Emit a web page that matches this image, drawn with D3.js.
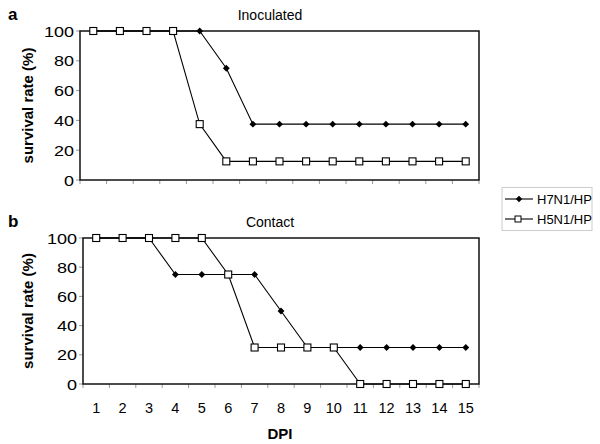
<!DOCTYPE html>
<html>
<head>
<meta charset="utf-8">
<script src="https://cdn.jsdelivr.net/npm/d3@7"></script>
<style>
body { margin: 0; background: #fff; }
text { font-family: Arial, "Liberation Sans", sans-serif; }
</style>
</head>
<body>
<svg id="chart" width="600" height="444"></svg>
<script>
var days = [1,2,3,4,5,6,7,8,9,10,11,12,13,14,15];
var yTicks = [0,20,40,60,80,100];

var inocH7N1 = [100,100,100,100,100,75,37.5,37.5,37.5,37.5,37.5,37.5,37.5,37.5,37.5];
var inocH5N1 = [100,100,100,100,37.5,12.5,12.5,12.5,12.5,12.5,12.5,12.5,12.5,12.5,12.5];
var contH7N1 = [100,100,100,75,75,75,75,50,25,25,25,25,25,25,25];
var contH5N1 = [100,100,100,100,100,75,25,25,25,25,0,0,0,0,0];

var seriesNames = ['H7N1/HP','H5N1/HP'];

var svg = d3.select('#chart');

function drawPanel(opts) {
	var x = d3.scaleBand().domain(days).range([opts.left, opts.right]);
	var y = d3.scaleLinear().domain([0,100]).range([opts.bottom, opts.top]);
	var g = svg.append('g');

	// category ticks between bands
	var edges = days.map(function(d){ return x(d); }).concat([opts.right]);
	g.selectAll('line.xt').data(edges).enter().append('line')
		.attr('x1', function(d){ return d; }).attr('x2', function(d){ return d; })
		.attr('y1', opts.bottom).attr('y2', opts.bottom + 4)
		.attr('stroke', '#999').attr('stroke-width', 1);

	g.selectAll('line.yt').data(yTicks).enter().append('line')
		.attr('x1', opts.left - 4).attr('x2', opts.left)
		.attr('y1', function(d){ return y(d); }).attr('y2', function(d){ return y(d); })
		.attr('stroke', '#999').attr('stroke-width', 1);

	g.selectAll('text.yl').data(yTicks).enter().append('text')
		.attr('transform', function(d){ return 'translate(' + (opts.left - 6) + ',' + (y(d) + 5.5) + ') scale(1.2,1)'; })
		.attr('text-anchor', 'end').attr('font-size', 15).text(function(d){ return d; });

	if (opts.showX) {
		g.selectAll('text.xl').data(days).enter().append('text')
			.attr('x', function(d){ return x(d) + x.bandwidth()/2; })
			.attr('y', opts.bottom + 29)
			.attr('text-anchor', 'middle').attr('font-size', 14.5).text(function(d){ return d; });
	}

	// frame
	g.append('rect')
		.attr('x', opts.left).attr('y', opts.top)
		.attr('width', opts.right - opts.left).attr('height', opts.bottom - opts.top)
		.attr('fill', 'none').attr('stroke', '#111').attr('stroke-width', 1.5);

	var line = d3.line()
		.x(function(d, i){ return x(days[i]) + x.bandwidth()/2; })
		.y(function(d){ return y(d); });

	// H7N1 diamonds
	g.append('path').attr('d', line(opts.h7)).attr('fill', 'none').attr('stroke', '#000').attr('stroke-width', 1.1);
	g.selectAll('path.dia').data(opts.h7).enter().append('path')
		.attr('d', d3.symbol().type(d3.symbolDiamond2).size(30))
		.attr('transform', function(d, i){ return 'translate(' + (x(days[i]) + x.bandwidth()/2) + ',' + y(d) + ')'; })
		.attr('fill', '#000');

	// H5N1 squares
	g.append('path').attr('d', line(opts.h5)).attr('fill', 'none').attr('stroke', '#000').attr('stroke-width', 1.1);
	g.selectAll('rect.sq').data(opts.h5).enter().append('rect')
		.attr('x', function(d, i){ return x(days[i]) + x.bandwidth()/2 - 3.5; })
		.attr('y', function(d){ return y(d) - 3.5; })
		.attr('width', 7).attr('height', 7)
		.attr('fill', '#fff').attr('stroke', '#000').attr('stroke-width', 1.1);

	g.append('text').attr('x', 8).attr('y', opts.top - 11)
		.attr('font-size', 17).attr('font-weight', 'bold').text(opts.letter);
	g.append('text').attr('x', 270).attr('y', opts.top - 11)
		.attr('text-anchor', 'middle').attr('font-size', 14).text(opts.title);
	g.append('text')
		.attr('transform', 'translate(33,' + ((opts.top + opts.bottom)/2) + ') rotate(-90)')
		.attr('text-anchor', 'middle').attr('font-size', 15).attr('font-weight', 'bold')
		.text('survival rate (%)');
}

drawPanel({left: 80, right: 479, top: 31, bottom: 180, h7: inocH7N1, h5: inocH5N1,
	letter: 'a', title: 'Inoculated', showX: false});
drawPanel({left: 83, right: 479, top: 238, bottom: 384, h7: contH7N1, h5: contH5N1,
	letter: 'b', title: 'Contact', showX: true});

svg.append('text').attr('x', 280).attr('y', 439).attr('text-anchor', 'middle')
	.attr('font-size', 15).attr('font-weight', 'bold').text('DPI');

// legend
var leg = svg.append('g');
leg.append('rect').attr('x', 502).attr('y', 187.5).attr('width', 90).attr('height', 43)
	.attr('fill', '#fff').attr('stroke', '#ccc').attr('stroke-width', 1);
seriesNames.forEach(function(name, i) {
	var ly = 199 + i * 20;
	leg.append('line').attr('x1', 505).attr('x2', 533).attr('y1', ly).attr('y2', ly)
		.attr('stroke', '#000').attr('stroke-width', 1.1);
	if (i === 0) {
		leg.append('path').attr('d', d3.symbol().type(d3.symbolDiamond2).size(26))
			.attr('transform', 'translate(519,' + ly + ')').attr('fill', '#000');
	} else {
		leg.append('rect').attr('x', 515).attr('y', ly - 3).attr('width', 6).attr('height', 6)
			.attr('fill', '#fff').attr('stroke', '#000').attr('stroke-width', 1);
	}
	leg.append('text').attr('x', 537).attr('y', ly + 5).attr('font-size', 13).text(name);
});
</script>
</body>
</html>
